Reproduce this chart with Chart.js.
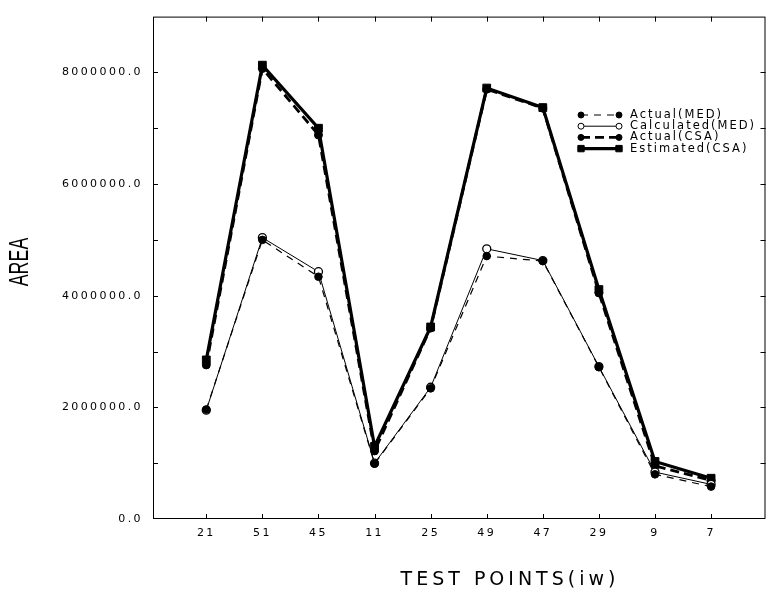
<!DOCTYPE html>
<html>
<head>
<meta charset="utf-8">
<script src="https://cdn.jsdelivr.net/npm/chart.js@4/dist/chart.umd.min.js"></script>
<style>
	body { margin: 0; background: #fff; }
	canvas { display: block; }
</style>
</head>
<body>
<canvas id="myChart" width="772" height="592"></canvas>
<script>
var testPoints = ['21', '51', '45', '11', '25', '49', '47', '29', '9', '7'];
var actualMED = [1960000, 5000000, 4340000, 990000, 2340000, 4710000, 4620000, 2720000, 800000, 580000];
var calculatedMED = [1950000, 5040000, 4430000, 1000000, 2360000, 4840000, 4630000, 2730000, 840000, 620000];
var actualCSA = [2760000, 8070000, 6880000, 1220000, 3420000, 7700000, 7360000, 4050000, 950000, 690000];
var estimatedCSA = [2850000, 8130000, 7000000, 1300000, 3440000, 7720000, 7370000, 4110000, 1030000, 730000];
var yTicks = [0, 2000000, 4000000, 6000000, 8000000];
var yMinor = [1000000, 2000000, 3000000, 4000000, 5000000, 6000000, 7000000, 8000000];

function toXY(values) {
	return values.map(function(v, i) { return { x: i + 1, y: v }; });
}

var ink = '#000';
var tickFont = { family: '"DejaVu Sans"', size: 11 };

// frame, inward ticks, axis titles and legend
var decorPlugin = {
	id: 'decor',
	beforeDraw: function(chart) {
		chart.ctx.letterSpacing = '2.4px';
	},
	afterDraw: function(chart) {
		var ctx = chart.ctx, a = chart.chartArea;
		var xs = chart.scales.x, ys = chart.scales.y;
		ctx.save();
		ctx.letterSpacing = '0px';
		ctx.strokeStyle = ink;
		ctx.lineWidth = 1;
		ctx.setLineDash([]);
		ctx.strokeRect(a.left + 0.5, a.top + 0.5, a.right - a.left - 1, a.bottom - a.top - 1);
		ctx.beginPath();
		testPoints.forEach(function(t, i) {
			var px = Math.round(xs.getPixelForValue(i + 1)) + 0.5;
			ctx.moveTo(px, a.bottom); ctx.lineTo(px, a.bottom - 5);
			ctx.moveTo(px, a.top); ctx.lineTo(px, a.top + 5);
		});
		yMinor.forEach(function(v) {
			var py = Math.round(ys.getPixelForValue(v)) + 0.5;
			ctx.moveTo(a.left, py); ctx.lineTo(a.left + 5, py);
			ctx.moveTo(a.right, py); ctx.lineTo(a.right - 5, py);
		});
		ctx.stroke();

		// legend
		chart.data.datasets.forEach(function(ds, i) {
			var y = 115 + i * 11.2;
			ctx.save();
			ctx.strokeStyle = ink;
			ctx.lineWidth = ds.borderWidth;
			ctx.setLineDash(ds.borderDash || []);
			ctx.beginPath();
			ctx.moveTo(581, y); ctx.lineTo(619, y);
			ctx.stroke();
			ctx.setLineDash([]);
			ctx.lineWidth = 1;
			ctx.fillStyle = ds.pointBackgroundColor;
			ctx.strokeStyle = ink;
			var r = ds.pointStyle === 'rect' ? 4.5 : 3;
			Chart.helpers.drawPoint(ctx, { pointStyle: ds.pointStyle, radius: r, borderWidth: 1, rotation: 0 }, 581, y);
			Chart.helpers.drawPoint(ctx, { pointStyle: ds.pointStyle, radius: r, borderWidth: 1, rotation: 0 }, 619, y);
			ctx.fillStyle = ink;
			ctx.font = '11.5px "DejaVu Sans"';
			ctx.letterSpacing = '2px';
			ctx.textAlign = 'left';
			ctx.textBaseline = 'middle';
			ctx.fillText(ds.label, 630, y);
			ctx.restore();
		});

		// x title
		ctx.fillStyle = ink;
		ctx.font = '19px "DejaVu Sans"';
		ctx.letterSpacing = '4px';
		ctx.textAlign = 'center';
		ctx.textBaseline = 'middle';
		ctx.fillText('TEST POINTS(iw)', 510, 580);

		// y title, tall and narrow
		ctx.letterSpacing = '0px';
		ctx.translate(20, 262);
		ctx.rotate(-Math.PI / 2);
		ctx.scale(0.66, 1);
		ctx.font = '27px "Liberation Sans"';
		ctx.fillText('AREA', 0, 1);
		ctx.restore();
	}
};

var ctx = document.getElementById('myChart').getContext('2d');
var myChart = new Chart(ctx, {
	type: 'line',
	data: {
		datasets: [{
			label: 'Actual(MED)',
			data: toXY(actualMED),
			borderColor: ink,
			borderWidth: 1.2,
			borderDash: [7, 6],
			pointStyle: 'circle',
			pointRadius: 3.8,
			pointBackgroundColor: ink,
			pointBorderColor: ink,
			pointBorderWidth: 1
		}, {
			label: 'Calculated(MED)',
			data: toXY(calculatedMED),
			borderColor: ink,
			borderWidth: 1,
			pointStyle: 'circle',
			pointRadius: 4,
			pointBackgroundColor: '#fff',
			pointBorderColor: ink,
			pointBorderWidth: 1.3
		}, {
			label: 'Actual(CSA)',
			data: toXY(actualCSA),
			borderColor: ink,
			borderWidth: 2.8,
			borderDash: [9, 5],
			pointStyle: 'circle',
			pointRadius: 4,
			pointBackgroundColor: ink,
			pointBorderColor: ink,
			pointBorderWidth: 1
		}, {
			label: 'Estimated(CSA)',
			data: toXY(estimatedCSA),
			borderColor: ink,
			borderWidth: 3.2,
			pointStyle: 'rect',
			pointRadius: 5.5,
			pointBackgroundColor: ink,
			pointBorderColor: ink,
			pointBorderWidth: 1
		}]
	},
	options: {
		responsive: false,
		animation: false,
		layout: { padding: { top: 12, right: 4, left: 0, bottom: 0 } },
		elements: { line: { tension: 0 } },
		plugins: {
			legend: { display: false },
			tooltip: { enabled: false }
		},
		scales: {
			x: {
				type: 'linear',
				min: 0.05,
				max: 10.97,
				grid: { display: false, drawTicks: false },
				border: { display: false },
				afterBuildTicks: function(scale) {
					scale.ticks = testPoints.map(function(t, i) { return { value: i + 1 }; });
				},
				afterFit: function(scale) { scale.height = 73; },
				ticks: {
					autoSkip: false,
					maxRotation: 0,
					padding: 8,
					color: ink,
					font: tickFont,
					callback: function(value) { return testPoints[value - 1]; }
				}
			},
			y: {
				min: 0,
				max: 9000000,
				grid: { display: false, drawTicks: false },
				border: { display: false },
				afterBuildTicks: function(scale) {
					scale.ticks = yTicks.map(function(v) { return { value: v }; });
				},
				afterFit: function(scale) { scale.width = 153; },
				ticks: {
					padding: 10,
					color: ink,
					font: tickFont,
					callback: function(value) { return value.toFixed(1); }
				}
			}
		}
	},
	plugins: [decorPlugin]
});
</script>
</body>
</html>
